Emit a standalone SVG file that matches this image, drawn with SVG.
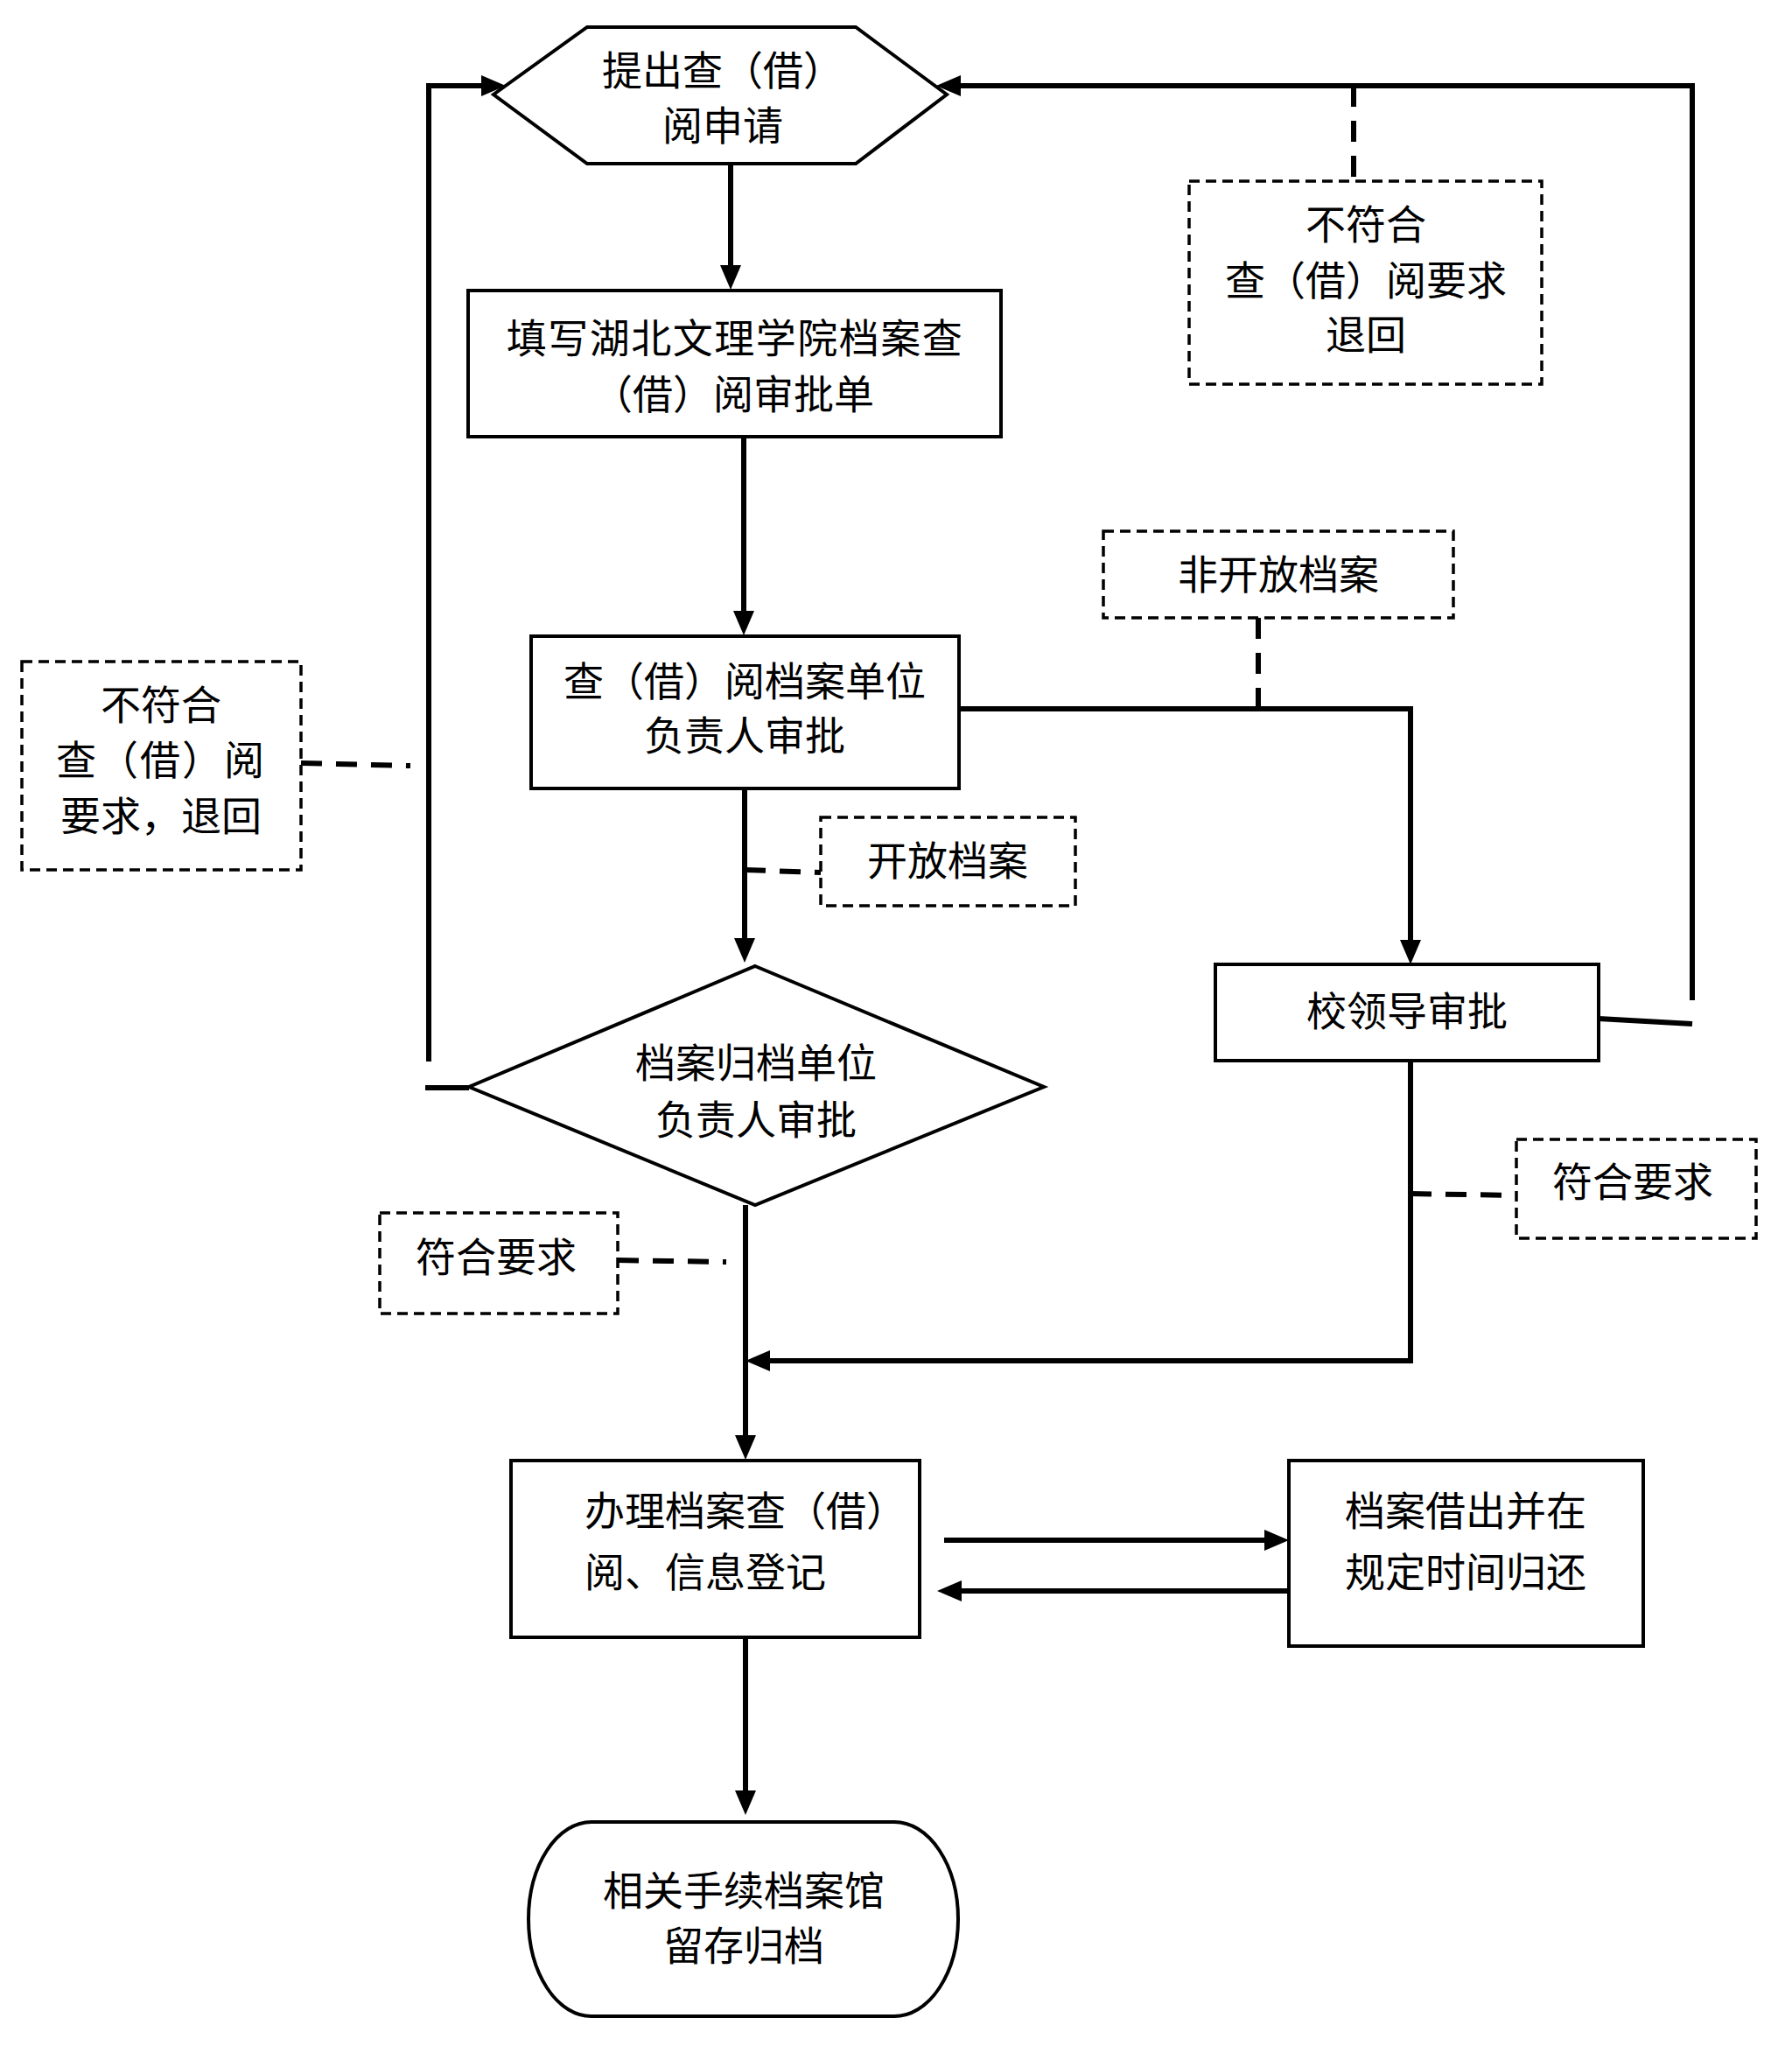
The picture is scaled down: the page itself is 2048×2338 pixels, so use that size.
<svg xmlns="http://www.w3.org/2000/svg" width="2048" height="2338" viewBox="0 0 2048 2338">
<style>
  text { font-family: "Noto Sans CJK SC", "Noto Sans CJK TC", sans-serif; font-size: 46px; fill: #000; text-anchor: middle; dominant-baseline: central; }
  .node { fill: #fff; stroke: #000; stroke-width: 4; }
  .note { fill: #fff; stroke: #000; stroke-width: 3.5; stroke-dasharray: 12 7; }
  .conn { fill: none; stroke: #000; stroke-width: 6; }
  .arrow { fill: none; stroke: #000; stroke-width: 6; marker-end: url(#ah); }
  .dash { fill: none; stroke: #000; stroke-width: 6; stroke-dasharray: 24 16; }
</style>
<defs>
  <marker id="ah" markerUnits="userSpaceOnUse" markerWidth="30" markerHeight="26" refX="20" refY="13" orient="auto">
    <path d="M0,1 L28,13 L0,25 Z" fill="#000"/>
  </marker>
</defs>
<rect width="2048" height="2338" fill="#fff"/>

<g id="connectors">
  <path class="arrow" d="M835,188 V323"/>
  <path class="arrow" d="M850,498 V718"/>
  <path class="arrow" d="M851,877 V1092"/>
  <path class="arrow" d="M1096,810 H1612 V1094"/>
  <path class="arrow" d="M1612,1212 V1555 H860"/>
  <path class="arrow" d="M852,1377 V1660"/>
  <path class="conn" d="M536,1243 H486"/>
  <path class="arrow" d="M490,1213 V98 H570"/>
  <path class="conn" d="M1827,1164 L1934,1170"/>
  <path class="arrow" d="M1934,1143 V98 H1078"/>
  <path class="arrow" d="M1079,1760 H1465"/>
  <path class="arrow" d="M1473,1818 H1079"/>
  <path class="arrow" d="M852,1871 V2066"/>
  <path class="dash" d="M344,872 L469,875"/>
  <path class="dash" d="M851,994 L938,997"/>
  <path class="dash" d="M1438,706 V810"/>
  <path class="dash" d="M1547,98 V206"/>
  <path class="dash" d="M1612,1364 L1733,1366"/>
  <path class="dash" d="M706,1440 L830,1442"/>
</g>

<g id="n-apply">
  <polygon class="node" points="671,31 978,31 1082,108 978,187 671,187 564,108"/>
  <text x="826" y="77">提出查（借）</text>
  <text x="826" y="140">阅申请</text>
</g>

<g id="n-form">
  <rect class="node" x="535" y="332" width="609" height="167"/>
  <text x="840" y="383" letter-spacing="1.5">填写湖北文理学院档案查</text>
  <text x="838" y="447">（借）阅审批单</text>
</g>

<g id="n-reject-top">
  <rect class="note" x="1359" y="207" width="403" height="232"/>
  <text x="1561" y="253">不符合</text>
  <text x="1561" y="317">查（借）阅要求</text>
  <text x="1561" y="379">退回</text>
</g>

<g id="n-unit">
  <rect class="node" x="607" y="727" width="489" height="174"/>
  <text x="851" y="775">查（借）阅档案单位</text>
  <text x="851" y="837">负责人审批</text>
</g>

<g id="n-reject-left">
  <rect class="note" x="25" y="756" width="319" height="238"/>
  <text x="184" y="802">不符合</text>
  <text x="184" y="865" letter-spacing="2">查（借）阅</text>
  <text x="184" y="929">要求，退回</text>
</g>

<g id="n-open">
  <rect class="note" x="938" y="934" width="291" height="101"/>
  <text x="1083" y="980">开放档案</text>
</g>

<g id="n-nonopen">
  <rect class="note" x="1261" y="607" width="400" height="99"/>
  <text x="1461" y="653">非开放档案</text>
</g>

<g id="n-archive-unit">
  <polygon class="node" points="863,1104 1193,1242 863,1377 536,1242"/>
  <text x="864" y="1211">档案归档单位</text>
  <text x="864" y="1276">负责人审批</text>
</g>

<g id="n-leader">
  <rect class="node" x="1389" y="1102" width="438" height="110"/>
  <text x="1608" y="1152">校领导审批</text>
</g>

<g id="n-ok-right">
  <rect class="note" x="1733" y="1302" width="274" height="113"/>
  <text x="1866" y="1347">符合要求</text>
</g>

<g id="n-ok-left">
  <rect class="note" x="434" y="1386" width="272" height="115"/>
  <text x="567" y="1433">符合要求</text>
</g>

<g id="n-handle">
  <rect class="node" x="584" y="1669" width="467" height="202"/>
  <text x="668" y="1723" style="text-anchor:start">办理档案查（借）</text>
  <text x="668" y="1793" style="text-anchor:start">阅、信息登记</text>
</g>

<g id="n-borrow">
  <rect class="node" x="1473" y="1669" width="405" height="212"/>
  <text x="1675" y="1723">档案借出并在</text>
  <text x="1675" y="1793">规定时间归还</text>
</g>

<g id="n-end">
  <path class="node" stroke-width="3.5" d="M676,2082 H1022 A73,111 0 0 1 1022,2304 H676 A72,111 0 0 1 676,2082 Z"/>
  <text x="850" y="2157">相关手续档案馆</text>
  <text x="850" y="2220">留存归档</text>
</g>
</svg>
